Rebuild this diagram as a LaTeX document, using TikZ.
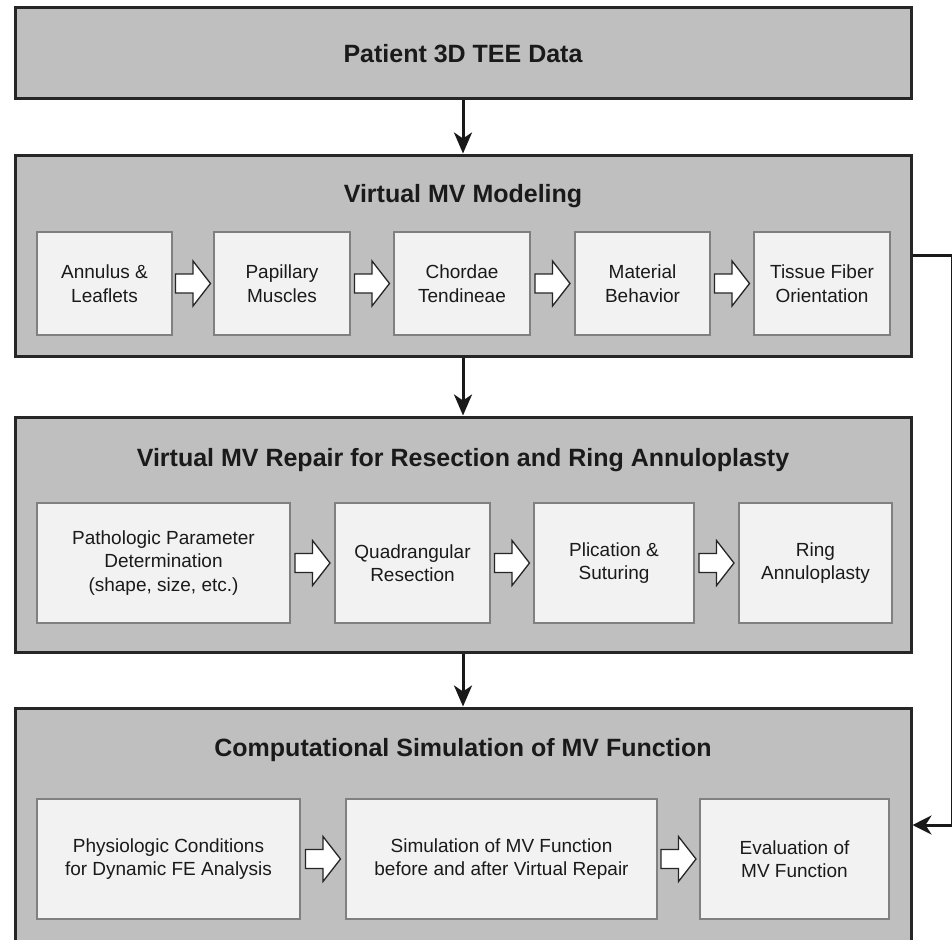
\documentclass[tikz,border=0pt]{standalone}
\usepackage{fontspec}
\setmainfont{Liberation Sans}
\usetikzlibrary{arrows.meta,calc}
\definecolor{outerfill}{HTML}{BFBFBF}
\definecolor{outerdraw}{HTML}{262626}
\definecolor{innerfill}{HTML}{F2F2F2}
\definecolor{innerdraw}{HTML}{808080}
\definecolor{txt}{HTML}{1A1A1A}
\tikzset{
  outerbox/.style={draw=outerdraw, fill=outerfill, line width=3pt, rectangle, minimum width=896pt, inner sep=0pt},
  innerbox/.style={draw=innerdraw, fill=innerfill, line width=1.5pt, rectangle, inner sep=0pt, align=center, text=txt, font=\fontsize{19}{23.5}\selectfont},
  titletext/.style={text=txt, font=\fontsize{25}{30}\selectfont\bfseries, inner sep=0pt},
  flowarrow/.style={draw=black!90, line width=3pt, -{Stealth[length=21pt,width=18pt,inset=6pt]}},
  barrow/.pic={\draw[fill=white, draw=black!85, line width=1.3pt, line join=miter] (-17.5,-9.5) -- (0,-9.5) -- (0,-22.5) -- (17.5,0) -- (0,22.5) -- (0,9.5) -- (-17.5,9.5) -- cycle;}
}
\begin{document}
\begin{tikzpicture}[x=1pt,y=-1pt]
\useasboundingbox (0,0) rectangle (952,939);
% Box 1
\node[outerbox, minimum height=91pt] (box1) at (463,53.5) {};
\node[titletext] (t1) at (463,54) {Patient 3D TEE Data};
% Box 2
\node[outerbox, minimum height=201pt] (box2) at (463,255.5) {};
\node[titletext] (t2) at (463,196) {Virtual MV Modeling};
\node[innerbox, minimum width=135pt, minimum height=103pt] (a1) at (104.5,283.5) {Annulus \&\\Leaflets};
\node[innerbox, minimum width=136pt, minimum height=103pt] (a2) at (282,283.5) {Papillary\\Muscles};
\node[innerbox, minimum width=136pt, minimum height=103pt] (a3) at (462,283.5) {Chordae\\Tendineae};
\node[innerbox, minimum width=135pt, minimum height=103pt] (a4) at (642.5,283.5) {Material\\Behavior};
\node[innerbox, minimum width=136pt, minimum height=103pt] (a5) at (822,283.5) {Tissue Fiber\\Orientation};
\pic at ($(a1.east)!0.5!(a2.west)$) {barrow};
\pic at ($(a2.east)!0.5!(a3.west)$) {barrow};
\pic at ($(a3.east)!0.5!(a4.west)$) {barrow};
\pic at ($(a4.east)!0.5!(a5.west)$) {barrow};
% Box 3
\node[outerbox, minimum height=235pt] (box3) at (463,534.5) {};
\node[titletext] (t3) at (463,460) {Virtual MV Repair for Resection and Ring Annuloplasty};
\node[innerbox, minimum width=253pt, minimum height=120pt] (b1) at (163.5,563) {\raisebox{-3pt}{\parbox{250pt}{\centering Pathologic Parameter\\Determination\\(shape, size, etc.)}}};
\node[innerbox, minimum width=155pt, minimum height=120pt] (b2) at (412.5,563) {Quadrangular\\Resection};
\node[innerbox, minimum width=160pt, minimum height=120pt] (b3) at (614,563) {Plication \&\\Suturing};
\node[innerbox, minimum width=153pt, minimum height=120pt] (b4) at (815.5,563) {Ring\\Annuloplasty};
\pic at ($(b1.east)!0.5!(b2.west)$) {barrow};
\pic at ($(b2.east)!0.5!(b3.west)$) {barrow};
\pic at ($(b3.east)!0.5!(b4.west)$) {barrow};
% Box 4
\node[outerbox, minimum height=252pt] (box4) at (463,834) {};
\node[titletext] (t4) at (463,750) {Computational Simulation of MV Function};
\node[innerbox, minimum width=263pt, minimum height=120pt] (c1) at (168.5,859) {\raisebox{-3pt}{\parbox{260pt}{\centering Physiologic Conditions\\for Dynamic FE Analysis}}};
\node[innerbox, minimum width=311pt, minimum height=120pt] (c2) at (501.5,859) {Simulation of MV Function\\before and after Virtual Repair};
\node[innerbox, minimum width=189pt, minimum height=120pt] (c3) at (794.5,859) {Evaluation of\\MV Function};
\pic at ($(c1.east)!0.5!(c2.west)$) {barrow};
\pic at ($(c2.east)!0.5!(c3.west)$) {barrow};
% Vertical arrows
\draw[flowarrow] (box1.south) -- (box2.north);
\draw[flowarrow] (box2.south) -- (box3.north);
\draw[flowarrow] (box3.south) -- (box4.north);
% Feedback connector
\coordinate (rc1) at (952,255.5);
\coordinate (rc2) at (952,825);
\draw[draw=black!90, line width=3pt, -{Stealth[length=19pt,width=19pt,inset=6pt]}] (box2.east) -- (rc1) -- (rc2) -- (box4.east |- rc2);
\end{tikzpicture}
\end{document}
